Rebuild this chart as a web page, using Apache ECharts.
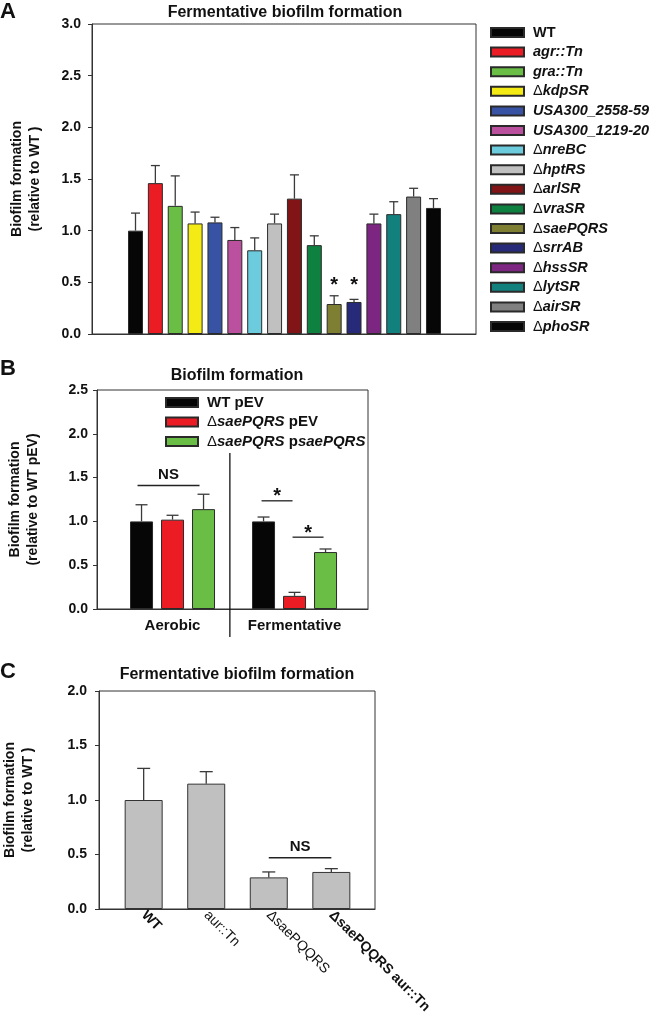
<!DOCTYPE html>
<html>
<head>
<meta charset="utf-8">
<script src="https://cdn.jsdelivr.net/npm/echarts@6/dist/echarts.min.js"></script>
<style>
html,body{margin:0;padding:0;background:#fff;}
#c{width:650px;height:1020px;}
</style>
</head>
<body>
<div id="c"></div>
<script>
// ---------- Panel A data ----------
const strainsA = ['WT','agr::Tn','gra::Tn','ΔkdpSR','USA300_2558-59','USA300_1219-20','ΔnreBC','ΔhptRS','ΔarlSR','ΔvraSR','ΔsaePQRS','ΔsrrAB','ΔhssSR','ΔlytSR','ΔairSR','ΔphoSR'];
const valuesA = [1.00,1.46,1.24,1.07,1.08,0.91,0.81,1.07,1.31,0.86,0.29,0.31,1.07,1.16,1.33,1.22];
const errorsA = [0.17,0.17,0.29,0.11,0.05,0.12,0.12,0.09,0.23,0.09,0.08,0.025,0.09,0.12,0.08,0.09];
const colorsA = ['#060606','#ec1c24','#6abd45','#f5eb14','#3953a4','#bb519e','#6ccbdc','#c0c0c0','#801416','#0e8040','#7f7f33','#262a78','#7c2682','#12807d','#808080','#060606'];
const sigA = [10, 11];          // strains marked with *
const sigALevel = 0.47;         // height of the * marks
const yTicksA = [0, 3, 0.5];    // min, max, step

// ---------- Panel B data ----------
const conditionsB = ['Aerobic','Fermentative'];
const groupsB = ['WT pEV','ΔsaePQRS pEV','ΔsaePQRS psaePQRS'];
const valuesB = [[1.00,1.00],[1.02,0.15],[1.14,0.65]];
const errorsB = [[0.19,0.05],[0.05,0.04],[0.17,0.035]];
const colorsB = ['#060606','#ec1c24','#6abd45'];
const bracketsB = [
  {cond:0, from:0, to:2, level:1.41, text:'NS'},
  {cond:1, from:0, to:1, level:1.235, text:'*'},
  {cond:1, from:1, to:2, level:0.82, text:'*'}
];
const yTicksB = [0, 2.5, 0.5];

// ---------- Panel C data ----------
const strainsC = ['WT','aur::Tn','ΔsaePQQRS','ΔsaePQQRS aur::Tn'];
const valuesC = [1.00,1.15,0.29,0.34];
const errorsC = [0.29,0.11,0.05,0.03];
const bracketsC = [{from:2, to:3, level:0.47, text:'NS'}];
const yTicksC = [0, 2, 0.5];

// ---------- styling ----------
const FONT = '"Liberation Sans", Arial, Helvetica, sans-serif';
const AX = '#333';
const chart = echarts.init(document.getElementById('c'), null, {renderer:'canvas'});

function richName(name){
  if (name === 'WT') return '{b|WT}';
  if (name.indexOf('Δ') === 0) return '{d|Δ}{i|' + name.slice(1) + '}';
  return '{i|' + name + '}';
}
function richNameB(name){
  if (name === 'WT pEV') return '{b|WT pEV}';
  if (name === 'ΔsaePQRS pEV') return '{d|Δ}{i|saePQRS}{b| pEV}';
  return '{d|Δ}{i|saePQRS}{b| p}{i|saePQRS}';
}
const legendRich = (fs) => ({
  b:{fontFamily:FONT, fontWeight:'bold', fontSize:fs, color:'#111', lineHeight:16},
  i:{fontFamily:FONT, fontWeight:'bold', fontStyle:'italic', fontSize:fs, color:'#111', lineHeight:16},
  d:{fontFamily:FONT, fontWeight:'normal', fontSize:fs, color:'#111', lineHeight:16}
});

function yAxisCfg(grid, ticks, name, gap, margin){
  return {
    type:'value', gridIndex:grid, min:ticks[0], max:ticks[1], interval:ticks[2],
    name:name, nameLocation:'middle', nameGap:gap, nameRotate:90,
    nameTextStyle:{fontFamily:FONT, fontWeight:'bold', fontSize:14, color:'#111', lineHeight:18},
    axisLine:{show:true, onZero:false, lineStyle:{color:AX, width:1}},
    axisTick:{show:true, inside:false, length:4, lineStyle:{color:AX}},
    axisLabel:{fontFamily:FONT, fontWeight:'bold', fontSize:14, color:'#111', margin:margin,
      formatter:(v)=>v.toFixed(1)},
    splitLine:{show:false}
  };
}

function errRender(offsetPx, capW){
  return function(params, api){
    const x = api.value(0), m = api.value(1), t = api.value(2);
    const p0 = api.coord([x, m]), p1 = api.coord([x, t]);
    const cx = p0[0] + offsetPx;
    const st = {stroke:'#3a3a3a', lineWidth:1.3};
    return {type:'group', children:[
      {type:'line', shape:{x1:cx, y1:p0[1], x2:cx, y2:p1[1]}, style:st},
      {type:'line', shape:{x1:cx-capW/2, y1:p1[1], x2:cx+capW/2, y2:p1[1]}, style:st}
    ]};
  };
}

const series = [];
strainsA.forEach((s, i) => {
  series.push({
    type:'bar', name:s, xAxisIndex:0, yAxisIndex:0,
    data:[[i, valuesA[i]]], barWidth:15, barGap:'-100%',
    itemStyle:{color:colorsA[i], borderColor:'#2a2a2a', borderWidth:1},
    emphasis:{disabled:true}, animation:false
  });
});
series.push({
  type:'custom', xAxisIndex:0, yAxisIndex:0, z:5, animation:false, silent:true,
  data: valuesA.map((v,i)=>[i, v, v + errorsA[i]]),
  renderItem: errRender(0, 9)
});
series.push({
  type:'custom', xAxisIndex:0, yAxisIndex:0, z:6, animation:false, silent:true,
  data: sigA.map(i=>[i, sigALevel]),
  renderItem:function(params, api){
    const p = api.coord([api.value(0), api.value(1)]);
    return {type:'text', x:p[0], y:p[1], style:{text:'*', fontFamily:FONT, fontWeight:'bold', fontSize:20, fill:'#111', align:'center', verticalAlign:'middle'}};
  }
});

const B_BW = 23, B_GAP = 8;
groupsB.forEach((g, k) => {
  series.push({
    type:'bar', name:g, xAxisIndex:1, yAxisIndex:1,
    data: valuesB[k].map((v,j)=>[j, v]), barWidth:B_BW, barGap:(B_GAP/B_BW*100)+'%',
    itemStyle:{color:colorsB[k], borderColor:'#2a2a2a', borderWidth:1},
    emphasis:{disabled:true}, animation:false
  });
});
groupsB.forEach((g, k) => {
  const off = (k - (groupsB.length-1)/2) * (B_BW + B_GAP);
  series.push({
    type:'custom', xAxisIndex:1, yAxisIndex:1, z:5, animation:false, silent:true,
    data: valuesB[k].map((v,j)=>[j, v, v + errorsB[k][j]]),
    renderItem: errRender(off, 12)
  });
});
series.push({
  type:'custom', xAxisIndex:1, yAxisIndex:1, z:6, animation:false, silent:true,
  data: bracketsB.map(b=>[b.cond, b.level, b.from, b.to]),
  renderItem:function(params, api){
    const b = bracketsB[params.dataIndex];
    const p = api.coord([api.value(0), api.value(1)]);
    const step = B_BW + B_GAP, mid = (groupsB.length-1)/2;
    const isStar = b.text === '*';
    const xa = p[0] + (b.from - mid)*step - 4 + (isStar ? 2 : 0);
    const xb = p[0] + (b.to - mid)*step - 4 + (isStar ? 2 : 0);
    return {type:'group', children:[
      {type:'line', shape:{x1:xa, y1:p[1], x2:xb, y2:p[1]}, style:{stroke:'#222', lineWidth:1.3}},
      {type:'text', x:(xa+xb)/2, y:p[1] - (isStar?4:3), style:{text:b.text, fontFamily:FONT, fontWeight:'bold', fontSize:isStar?20:15, fill:'#111', align:'center', verticalAlign:isStar?'middle':'bottom'}}
    ]};
  }
});
series.push({
  type:'custom', xAxisIndex:1, yAxisIndex:1, z:6, animation:false, silent:true, clip:false,
  data:[[ (conditionsB.length-1)/2 - 0.03, 1.78 ]],
  renderItem:function(params, api){
    const p = api.coord([api.value(0), api.value(1)]);
    const base = api.coord([api.value(0), 0]);
    return {type:'line', shape:{x1:p[0], y1:p[1], x2:p[0], y2:base[1]+28}, style:{stroke:'#111', lineWidth:1.3}};
  }
});

series.push({
  type:'bar', name:'C', xAxisIndex:2, yAxisIndex:2,
  data: valuesC.map((v,i)=>[i, v]), barWidth:38,
  itemStyle:{color:'#c0c0c0', borderColor:'#333', borderWidth:1},
  emphasis:{disabled:true}, animation:false
});
series.push({
  type:'custom', xAxisIndex:2, yAxisIndex:2, z:5, animation:false, silent:true,
  data: valuesC.map((v,i)=>[i, v, v + errorsC[i]]),
  renderItem: errRender(0, 13)
});
series.push({
  type:'custom', xAxisIndex:2, yAxisIndex:2, z:6, animation:false, silent:true,
  data: bracketsC.map(b=>[b.from, b.level, b.to]),
  renderItem:function(params, api){
    const b = bracketsC[params.dataIndex];
    const pa = api.coord([b.from, b.level]), pb = api.coord([b.to, b.level]);
    return {type:'group', children:[
      {type:'line', shape:{x1:pa[0], y1:pa[1], x2:pb[0], y2:pb[1]}, style:{stroke:'#222', lineWidth:1.3}},
      {type:'text', x:(pa[0]+pb[0])/2, y:pa[1]-3, style:{text:b.text, fontFamily:FONT, fontWeight:'bold', fontSize:15, fill:'#111', align:'center', verticalAlign:'bottom'}}
    ]};
  }
});

const hiddenX = {axisTick:{show:false}, splitLine:{show:false}, axisLine:{show:true, onZero:false, lineStyle:{color:AX}}};

const option = {
  backgroundColor:'#fff',
  animation:false,
  title:[
    {text:'A', left:0, top:1, padding:0, textStyle:{fontFamily:FONT, fontWeight:'bold', fontSize:22, color:'#111'}},
    {text:'Fermentative biofilm formation', left:285, top:5, padding:0, textAlign:'center', textStyle:{fontFamily:FONT, fontWeight:'bold', fontSize:16, color:'#111'}},
    {text:'B', left:0, top:358, padding:0, textStyle:{fontFamily:FONT, fontWeight:'bold', fontSize:22, color:'#111'}},
    {text:'Biofilm formation', left:237, top:368, padding:0, textAlign:'center', textStyle:{fontFamily:FONT, fontWeight:'bold', fontSize:16, color:'#111'}},
    {text:'C', left:0, top:661, padding:0, textStyle:{fontFamily:FONT, fontWeight:'bold', fontSize:22, color:'#111'}},
    {text:'Fermentative biofilm formation', left:237, top:667, padding:0, textAlign:'center', textStyle:{fontFamily:FONT, fontWeight:'bold', fontSize:16, color:'#111'}}
  ],
  legend:[
    {
      data:strainsA, orient:'vertical', left:490, top:25, itemWidth:33, itemHeight:9, itemGap:4.6,
      icon:'rect', selectedMode:false, padding:0,
      formatter:richName,
      textStyle:{padding:[0,0,0,4], rich:legendRich(14.5)}
    },
    {
      data:groupsB, orient:'vertical', left:165, top:395, itemWidth:32, itemHeight:9, itemGap:4.5,
      icon:'rect', selectedMode:false, padding:0,
      formatter:richNameB,
      textStyle:{padding:[0,0,0,4], rich:legendRich(15)}
    }
  ],
  grid:[
    {left:88, top:24, width:388, height:310, show:true, borderColor:AX, borderWidth:1, backgroundColor:'transparent'},
    {left:97, top:390, width:271, height:219, show:true, borderColor:AX, borderWidth:1, backgroundColor:'transparent'},
    {left:97, top:691, width:278, height:218, show:true, borderColor:AX, borderWidth:1, backgroundColor:'transparent'}
  ],
  xAxis:[
    Object.assign({type:'value', gridIndex:0, min:-2.19, max:17.14, axisLabel:{show:false}}, hiddenX),
    Object.assign({type:'value', gridIndex:1, min:-0.619, max:1.602,
      axisLabel:{show:true, customValues:conditionsB.map((c,i)=>i), margin:9,
        formatter:(v)=>conditionsB[Math.round(v)] || '',
        fontFamily:FONT, fontWeight:'bold', fontSize:15, color:'#111'}}, hiddenX),
    Object.assign({type:'value', gridIndex:2, min:-0.714, max:3.698,
      axisLabel:{show:true, customValues:strainsC.map((c,i)=>i), margin:4, rotate:-45,
        formatter:(v)=>{ const s = strainsC[Math.round(v)] || ''; return (s==='WT' || s.indexOf(' ')>0) ? '{b|'+s+'}' : '{n|'+s+'}'; },
        rich:{b:{fontFamily:FONT, fontWeight:'bold', fontSize:14, color:'#111'}, n:{fontFamily:FONT, fontWeight:'normal', fontSize:14, color:'#111'}}
      }}, hiddenX)
  ],
  yAxis:[
    yAxisCfg(0, yTicksA, 'Biofilm formation\n(relative to WT )', 48, 11),
    yAxisCfg(1, yTicksB, 'Biofilm formation\n(relative to WT pEV)', 55, 9),
    yAxisCfg(2, yTicksC, 'Biofilm formation\n(relative to WT )', 62, 12)
  ],
  series:series
};
chart.setOption(option);
</script>
</body>
</html>
